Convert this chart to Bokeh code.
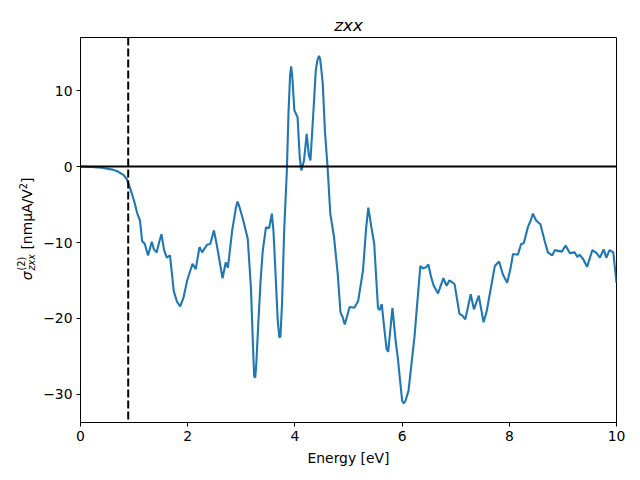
from bokeh.plotting import figure
from bokeh.models import Range1d, FixedTicker, CustomJSTickFormatter, Span, Div
from bokeh.layouts import row
from bokeh.embed import file_html
from bokeh.resources import INLINE

energy = [0.0, 0.2, 0.4, 0.6, 0.7, 0.8, 0.86, 0.9, 0.95, 1.0, 1.06, 1.11, 1.15, 1.20, 1.26,
          1.33, 1.37, 1.42, 1.47, 1.51, 1.56, 1.61, 1.67, 1.74, 1.80, 1.86, 1.92, 1.99,
          2.09, 2.15, 2.22, 2.27, 2.36, 2.42, 2.49, 2.55, 2.65, 2.71, 2.75, 2.83, 2.90, 2.93, 2.96,
          3.03, 3.12, 3.18, 3.22, 3.24, 3.26, 3.28, 3.31, 3.36, 3.40, 3.46, 3.52, 3.57, 3.60,
          3.63, 3.68, 3.71, 3.73, 3.76, 3.80, 3.85, 3.88, 3.91, 3.93, 3.95, 3.99, 4.05, 4.09, 4.12,
          4.17, 4.22, 4.26, 4.29, 4.35, 4.39, 4.42, 4.45, 4.47, 4.49, 4.52, 4.56, 4.61, 4.66, 4.73,
          4.80, 4.85, 4.89, 4.93, 4.97, 5.02, 5.11, 5.18, 5.27, 5.33, 5.37, 5.43, 5.48,
          5.52, 5.55, 5.58, 5.62, 5.66, 5.71, 5.74, 5.78, 5.82, 5.88, 5.92, 5.97, 6.00, 6.03, 6.06,
          6.12, 6.23, 6.34, 6.39, 6.44, 6.49, 6.54, 6.59, 6.67, 6.77, 6.83, 6.88, 6.93,
          6.98, 7.07, 7.12, 7.18, 7.28, 7.34, 7.43, 7.52, 7.58, 7.63, 7.73, 7.81, 7.88,
          7.96, 8.02, 8.07, 8.16, 8.22, 8.27, 8.35, 8.40, 8.44, 8.50, 8.58, 8.66, 8.72,
          8.80, 8.85, 8.91, 8.98, 9.05, 9.13, 9.22, 9.27, 9.31, 9.38, 9.45, 9.55, 9.63,
          9.69, 9.76, 9.81, 9.87, 9.94, 10.0]
sigma = [0.0, -0.05, -0.15, -0.4, -0.65, -1.1, -1.6, -2.3, -3.4, -4.5, -6.2, -7.1, -9.8, -10.2, -11.7,
         -9.9, -10.9, -11.3, -9.9, -8.9, -11.0, -12.0, -11.7, -16.4, -17.8, -18.4, -17.3, -15.0,
         -12.8, -13.5, -10.6, -11.3, -10.3, -10.2, -8.4, -10.6, -14.7, -12.6, -13.3, -8.4, -5.4, -4.6, -5.2,
         -6.9, -9.5, -16.0, -24.0, -27.6, -27.8, -26.0, -21.6, -15.0, -11.1, -8.0, -8.1, -6.2, -8.5,
         -12.8, -20.3, -22.5, -22.4, -18.0, -8.4, -0.5, 7.0, 12.0, 13.2, 12.0, 7.4, 6.5, 1.2, -0.5,
         0.8, 4.3, 1.5, 0.8, 7.8, 12.7, 14.0, 14.6, 14.2, 13.0, 10.9, 4.7, -0.1, -6.2, -9.3,
         -14.2, -19.2, -19.8, -20.8, -19.8, -18.5, -18.6, -17.7, -13.7, -8.0, -5.4, -8.1, -10.2,
         -15.0, -18.6, -18.9, -18.1, -20.8, -24.0, -24.4, -21.5, -18.6, -23.0, -25.2, -28.7, -30.8, -31.2, -30.9,
         -29.5, -22.5, -13.1, -13.4, -13.3, -12.9, -14.5, -15.7, -16.7, -14.7, -15.7, -15.0, -15.2,
         -15.5, -19.4, -19.6, -20.1, -16.8, -18.8, -17.0, -20.5, -19.0, -17.0, -13.1, -12.5, -14.2,
         -15.3, -13.5, -11.5, -11.6, -10.2, -10.1, -7.9, -7.1, -6.2, -7.1, -7.6, -9.8, -11.3,
         -11.7, -11.0, -11.1, -11.2, -10.4, -11.4, -11.3, -11.9, -11.6, -12.2, -13.2, -11.0, -11.4,
         -12.0, -10.9, -12.0, -11.0, -11.3, -15.3]

x_ticks = [0, 2, 4, 6, 8, 10]
y_ticks = [-30, -20, -10, 0, 10]
gap_energy = 0.89
zero_level = 0.0
x_limits = (0.0, 10.0)
y_limits = (-33.7, 17.0)

FONT = "DejaVu Sans"
LABEL_W = 40

p = figure(width=640 - LABEL_W, height=480, output_backend="svg", toolbar_location=None,
           x_range=Range1d(*x_limits), y_range=Range1d(*y_limits),
           min_border_left=80 - LABEL_W, min_border_right=24, min_border_top=37,
           min_border_bottom=58, margin=0)
p.grid.visible = False
p.outline_line_color = "black"
p.outline_line_width = 1
p.background_fill_color = "white"
p.border_fill_color = "white"

p.title.text = "zxx"
p.title.text_font = FONT
p.title.text_font_size = "16.7px"
p.title.text_font_style = "italic"
p.title.text_color = "black"
p.title.align = "center"
p.title.standoff = 6

fmt = CustomJSTickFormatter(code="return tick < 0 ? '\u2212' + Math.abs(tick) : String(tick);")
for ax, ticks in ((p.xaxis[0], x_ticks), (p.yaxis[0], y_ticks)):
    ax.ticker = FixedTicker(ticks=ticks)
    ax.formatter = fmt
    ax.major_tick_in = 0
    ax.major_tick_out = 4
    ax.minor_tick_line_color = None
    ax.major_tick_line_color = "black"
    ax.axis_line_color = "black"
    ax.major_label_text_font = FONT
    ax.major_label_text_font_size = "13.9px"
    ax.major_label_text_color = "black"
    ax.major_label_standoff = 4

p.xaxis.axis_label = "Energy [eV]"
p.xaxis.axis_label_text_font = FONT
p.xaxis.axis_label_text_font_size = "13.9px"
p.xaxis.axis_label_text_font_style = "normal"
p.xaxis.axis_label_text_color = "black"
p.xaxis.axis_label_standoff = 6

p.line(energy, sigma, line_color="#1f77b4", line_width=2.1)
p.add_layout(Span(location=zero_level, dimension="width", line_color="black", line_width=2))
p.add_layout(Span(location=gap_energy, dimension="height", line_color="black", line_width=2,
                  line_dash="8 3"))

ylabel_html = (
    '<div style="position:relative;width:40px;height:480px;background:white;">'
    '<div style="position:absolute;left:27px;top:229px;transform:translate(-50%,-50%) rotate(-90deg);'
    "white-space:nowrap;font-family:'DejaVu Sans';font-size:13.9px;line-height:1;color:black;\">"
    '<span style="font-style:italic">\u03c3</span>'
    '<span style="display:inline-block;vertical-align:-0.28em;font-size:9.7px;line-height:1.0;margin-left:1px;">'
    '<span style="display:block">(2)</span>'
    '<span style="display:block;font-style:italic">zxx</span></span>'
    '\u00a0[nm\u03bcA/V<span style="font-size:9.7px;vertical-align:0.55em;line-height:0">2</span>]'
    '</div></div>'
)
ylabel = Div(text=ylabel_html, width=LABEL_W, height=480, margin=0)

layout = row(ylabel, p, spacing=0)
open("out.html", "w").write(file_html(layout, INLINE))
